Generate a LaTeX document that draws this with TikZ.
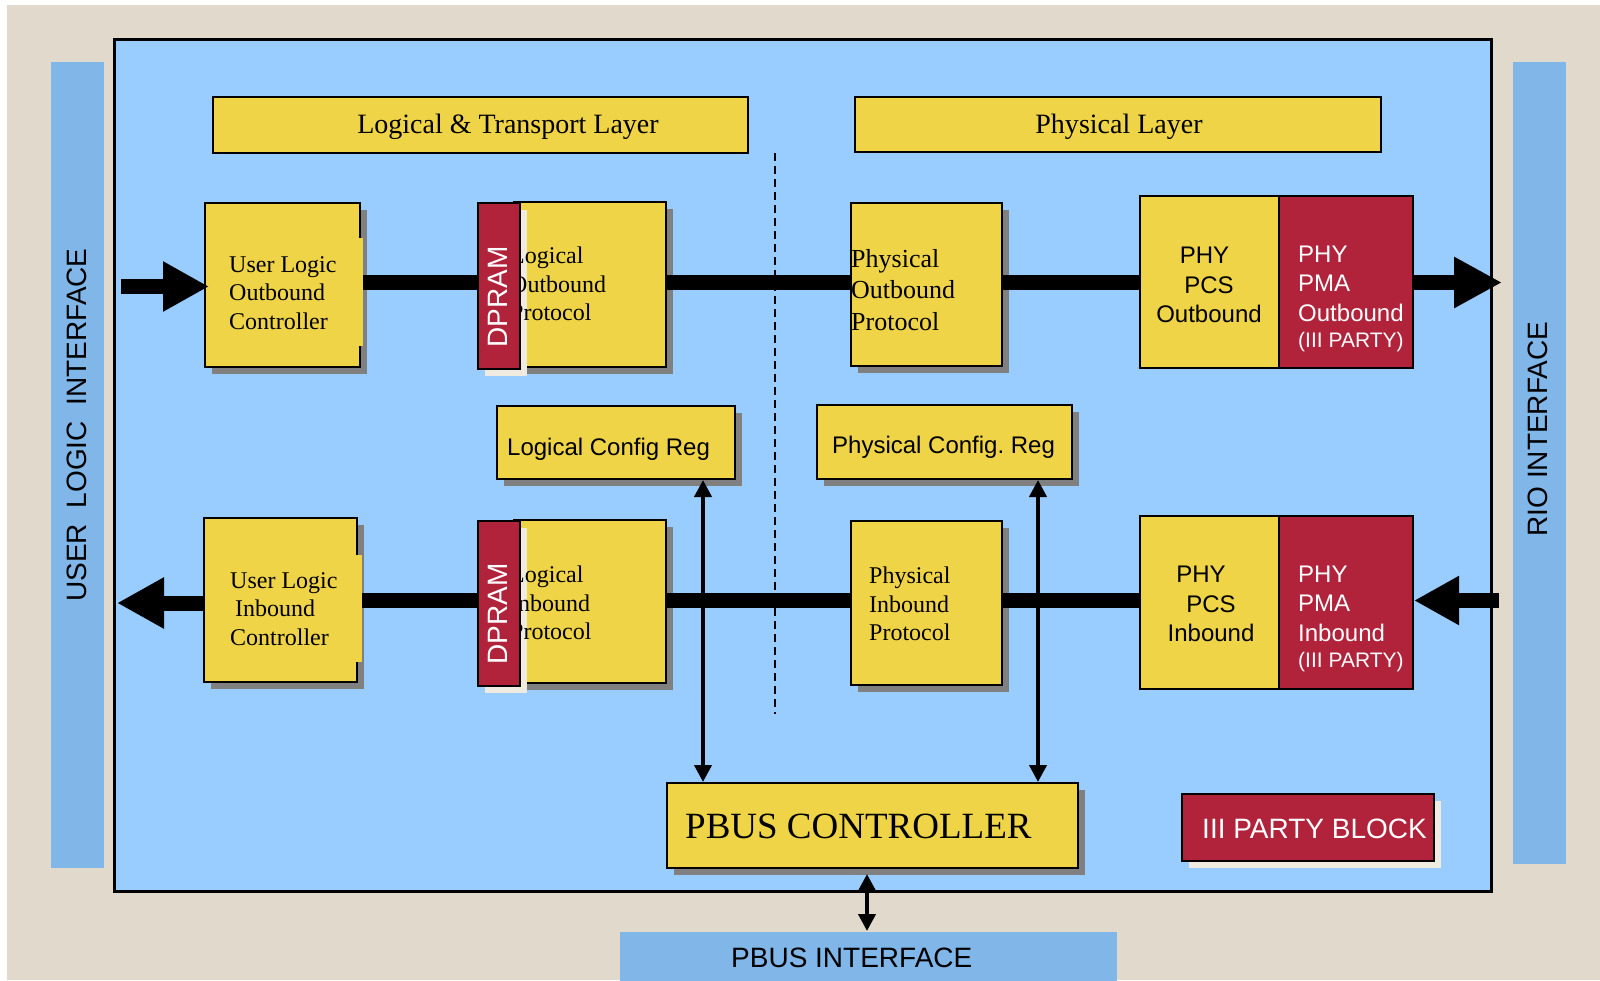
\documentclass[tikz,border=0pt]{standalone}
\usepackage{fontspec}
\setmainfont{Liberation Serif}
\setsansfont{Liberation Sans}
\usetikzlibrary{arrows.meta,shadows}

\definecolor{paper}{HTML}{E1D9CB}
\definecolor{panel}{HTML}{99CCFF}
\definecolor{bar}{HTML}{80B6E8}
\definecolor{ylw}{HTML}{F0D447}
\definecolor{brick}{HTML}{B0233B}
\definecolor{shgray}{HTML}{808080}
\definecolor{shcream}{HTML}{EFEBE0}

\begin{document}
\begin{tikzpicture}[x=1pt,y=-1pt,
  blk/.style={rectangle, draw=black, line width=2pt, inner sep=0pt, anchor=north west},
  ybox/.style={blk, fill=ylw},
  rbox/.style={blk, fill=brick},
  gshadow/.style={drop shadow={shadow xshift=6.5pt, shadow yshift=-6.5pt, fill=shgray, opacity=1}},
  cshadow/.style={drop shadow={shadow xshift=6.5pt, shadow yshift=-6.5pt, fill=shcream, opacity=1}},
  sz/.style n args={2}{minimum width=#1pt, minimum height=#2pt},
  rm/.style={font=\fontsize{24}{28.5}\selectfont, inner sep=0pt, align=left},
  ss/.style={font=\sffamily\fontsize{24}{29.5}\selectfont, inner sep=0pt},
  sidetxt/.style={inner sep=0pt, font=\sffamily\fontsize{28}{30}\selectfont, rotate=90},
  bus/.style={line width=15pt},
  link/.style={line width=4pt, {Triangle[length=17pt,width=17pt]}-{Triangle[length=17pt,width=17pt]}},
  divider/.style={line width=2pt, dash pattern=on 8pt off 5pt}
]
% ground
\fill[white] (0,0) rectangle (1600,980);
\fill[paper] (7,5) rectangle (1600,980);
\useasboundingbox (0,0) rectangle (1600,980);

% interface bars
\node[blk, draw=none, fill=bar, sz={53}{806}] (ulibar) at (50,61) {};
\node[blk, draw=none, fill=bar, sz={53}{802}] (riobar) at (1512,61) {};
\node[blk, draw=none, fill=bar, sz={497}{49}] (pbusbar) at (619,931) {};
\node[sidetxt] (ulitxt) at (77,425) {USER\ \ LOGIC\ \ INTERFACE};
\node[sidetxt] (riotxt) at (1538,429) {RIO INTERFACE};
\node[ss, font=\sffamily\fontsize{28}{30}\selectfont, anchor=base west] (pbusbartxt) at (731,967) {PBUS INTERFACE};

% core panel
\node[blk, fill=panel, line width=2.5pt, sz={1377}{852}] (panel) at (113,38) {};

% layer headings
\node[ybox, sz={535}{56}] (ltl) at (212,96) {};
\node[rm, font=\fontsize{28}{32}\selectfont, anchor=base] (ltltxt) at (508,133) {Logical \& Transport Layer};
\node[ybox, sz={526}{55}] (phl) at (854,96) {};
\node[rm, font=\fontsize{28}{32}\selectfont, anchor=base] (phltxt) at (1119,133) {Physical Layer};

% layer divider
\coordinate (dtop) at (775,153);
\coordinate (dbot) at (775,714);
\draw[divider] (dtop) -- (dbot);

% outbound path
\node[ybox, gshadow, sz={155}{164}] (uloc) at (204,202) {};
\node[rm, anchor=north west] (uloct) at (229,256) {User Logic\\Outbound\\Controller};
\node[ybox, gshadow, sz={152}{165}] (lop) at (513,201) {};
\node[rbox, cshadow, sz={42}{166}] (dp1) at (477,202) {};
\node[rm, anchor=north west] (lopt) at (510,247) {Logical\\Outbound\\Protocol};
\node[rbox, sz={42}{166}] (dp1f) at (477,202) {};
\node[sidetxt, text=white] (dp1t) at (498,297) {DPRAM};
\node[ybox, gshadow, sz={151}{163}] (pop) at (850,202) {};
\node[rm, font=\fontsize{26}{31.5}\selectfont, anchor=north west] (popt) at (851,249) {Physical\\Outbound\\Protocol};
\node[ybox, sz={139}{172}] (pcs1) at (1139,195) {};
\node[rbox, sz={134}{172}] (pma1) at (1278,195) {};
\node[ss, align=center, anchor=north] (pcs1t) at (1209,247) {PHY\hspace*{9pt}\\PCS\hspace*{9pt}\\Outbound};
\node[ss, text=white, align=left, anchor=north west] (pma1t) at (1298,245.5)
  {PHY\\PMA\\Outbound\\[-3pt]{\fontsize{21}{25}\selectfont (III PARTY)}};

% configuration registers
\node[ybox, gshadow, sz={238}{73}] (lcr) at (496,405) {};
\node[ss, anchor=base west] (lcrt) at (507,455) {Logical Config Reg};
\node[ybox, gshadow, sz={255}{74}] (pcr) at (816,404) {};
\node[ss, anchor=base west] (pcrt) at (832,453) {Physical Config.\ Reg};

% inbound path
\node[ybox, gshadow, sz={153}{164}] (ulic) at (203,517) {};
\node[rm, anchor=north west] (ulict) at (230,572) {User Logic\\\hspace*{5pt}Inbound\\Controller};
\node[ybox, gshadow, sz={152}{163}] (lip) at (513,519) {};
\node[rbox, cshadow, sz={42}{165}] (dp2) at (477,520) {};
\node[rm, anchor=north west] (lipt) at (510,566) {Logical\\Inbound\\Protocol};
\node[rbox, sz={42}{165}] (dp2f) at (477,520) {};
\node[sidetxt, text=white] (dp2t) at (498,614) {DPRAM};
\node[ybox, gshadow, sz={151}{164}] (pip) at (850,520) {};
\node[rm, anchor=north west] (pipt) at (869,567) {Physical\\Inbound\\Protocol};
\node[ybox, sz={139}{173}] (pcs2) at (1139,515) {};
\node[rbox, sz={134}{173}] (pma2) at (1278,515) {};
\node[ss, align=center, anchor=north] (pcs2t) at (1211,566) {PHY\hspace*{20pt}\\PCS\hspace*{20pt}\\Inbound};
\node[ss, text=white, align=left, anchor=north west] (pma2t) at (1298,565.5)
  {PHY\\PMA\\Inbound\\[-3pt]{\fontsize{21}{25}\selectfont (III PARTY)}};

% bus controller and vendor block
\node[ybox, gshadow, sz={411}{85}] (pbus) at (666,782) {};
\node[rm, font=\fontsize{37}{40}\selectfont, anchor=base west] (pbust) at (685,838) {PBUS CONTROLLER};
\node[rbox, cshadow, sz={252}{67}] (third) at (1181,793) {};
\node[ss, font=\sffamily\fontsize{28}{32}\selectfont, text=white, anchor=base west] (thirdt) at (1202,838) {III PARTY BLOCK};

% data paths
\coordinate (rowA) at (0,282.5);
\coordinate (rowB) at (0,600.5);
\draw[bus] (uloc.east |- rowA) -- (dp1.west |- rowA);
\draw[bus] (lop.east |- rowA) -- (pop.west |- rowA);
\draw[bus] (pop.east |- rowA) -- (pcs1.west |- rowA);
\draw[bus] (ulic.east |- rowB) -- (dp2.west |- rowB);
\draw[bus] (lip.east |- rowB) -- (pip.west |- rowB);
\draw[bus] (pip.east |- rowB) -- (pcs2.west |- rowB);

% connector tabs on the controller blocks
\fill[ylw] (356,238) rectangle (363,346);
\fill[ylw] (353,555) rectangle (362,662);

% interface arrows
\coordinate (inL) at (121,286.5);
\coordinate (outL) at (117,603);
\coordinate (outR) at (1502,282.5);
\coordinate (inR) at (1499,600.5);
\draw[bus, -{Triangle[length=46pt,width=47pt]}, shorten >=-5pt] (inL) -- (uloc.west |- inL);
\draw[bus, -{Triangle[length=47pt,width=48pt]}] (ulic.west |- outL) -- (outL);
\draw[bus, -{Triangle[length=48pt,width=48pt]}] (pma1.east |- outR) -- (outR);
\draw[bus, -{Triangle[length=45pt,width=46pt]}] (inR) -- (pma2.east |- inR);

% register / bus links
\coordinate (xl) at (703,0);
\coordinate (xp) at (1038,0);
\coordinate (xb) at (867,0);
\draw[link] (lcr.south -| xl) -- (pbus.north -| xl);
\draw[link] (pcr.south -| xp) -- (pbus.north -| xp);
\draw[link, shorten <=5pt] (pbus.south -| xb) -- (pbusbar.north -| xb);
\end{tikzpicture}
\end{document}
